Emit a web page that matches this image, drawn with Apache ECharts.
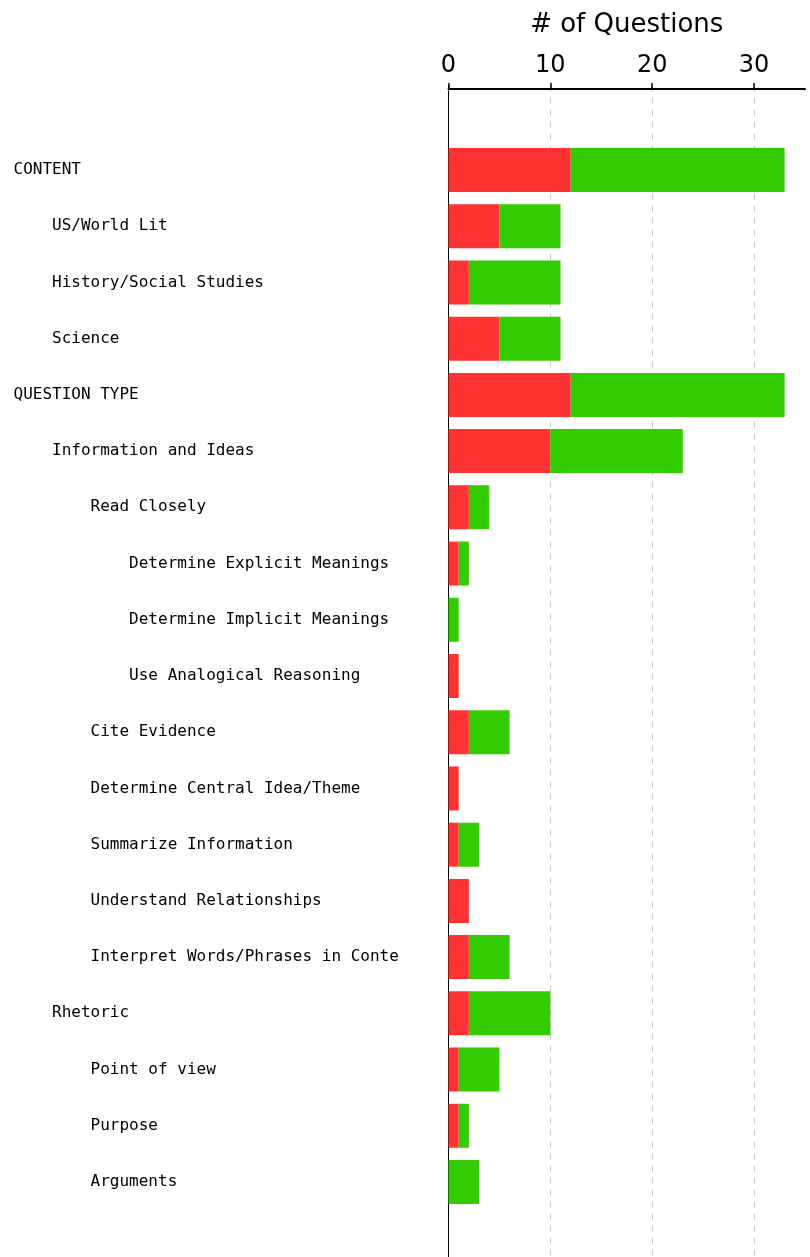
<!DOCTYPE html>
<html>
<head>
<meta charset="utf-8">
<script src="https://cdn.jsdelivr.net/npm/echarts@6/dist/echarts.min.js"></script>
<style>
html,body{margin:0;padding:0;background:#fff;}
#chart{width:810px;height:1257px;}
</style>
</head>
<body>
<div id="chart"></div>
<script>
const categoryNames = [
  'CONTENT', 'US/World Lit', 'History/Social Studies', 'Science',
  'QUESTION TYPE', 'Information and Ideas', 'Read Closely',
  'Determine Explicit Meanings', 'Determine Implicit Meanings', 'Use Analogical Reasoning',
  'Cite Evidence', 'Determine Central Idea/Theme', 'Summarize Information',
  'Understand Relationships', 'Interpret Words/Phrases in Conte',
  'Rhetoric', 'Point of view', 'Purpose', 'Arguments'
];
const categoryLevels = [0,1,1,1,0,1,2,3,3,3,2,2,2,2,2,1,2,2,2];
const redValues   = [12,5,2,5,12,10,2,1,0,1,2,1,1,2,2,2,1,1,0];
const greenValues = [21,6,9,6,21,13,2,1,1,0,4,0,2,0,4,8,4,1,3];
const xTicks = [0,10,20,30];
const xTitle = '# of Questions';

const labels = categoryNames.map((n,i)=>' '.repeat(4*categoryLevels[i]) + n);

const chart = echarts.init(document.getElementById('chart'), null, {renderer:'canvas'});
chart.setOption({
  backgroundColor:'#ffffff',
  animation:false,
  grid:{left:448.5, right:5, top:85.7, height:1180.6, containLabel:false, outerBoundsMode:'none'},
  xAxis:{
    type:'value', position:'top', min:0, max:35, interval:10, offset:-3.3,
    name:xTitle, nameLocation:'middle', nameGap:51,
    nameTextStyle:{fontFamily:'DejaVu Sans', fontSize:26, color:'#000'},
    axisLine:{show:true, lineStyle:{color:'#000', width:2}},
    axisTick:{show:true, length:6, inside:false, lineStyle:{color:'#000', width:1.5}, customValues:xTicks},
    axisLabel:{fontFamily:'DejaVu Sans', fontSize:24, color:'#000', margin:11, customValues:xTicks},
    splitLine:{show:true, lineStyle:{color:'#c8c8c8', type:[6,6], width:1}}
  },
  yAxis:{
    type:'category', inverse:true, data:labels, min:-1, max:19,
    axisLine:{show:true, onZero:false, lineStyle:{color:'#000', width:1}},
    axisTick:{show:false},
    axisLabel:{align:'left', margin:435, fontFamily:'DejaVu Sans Mono', fontSize:16, color:'#000',
      formatter:function(v){return v==null?'':v;}},
    splitLine:{show:false}
  },
  series:[
    {name:'Red', type:'bar', stack:'q', data:redValues, barWidth:44, itemStyle:{color:'#ff3333'}},
    {name:'Green', type:'bar', stack:'q', data:greenValues, barWidth:44, itemStyle:{color:'#33cc00'}}
  ]
});
</script>
</body>
</html>
